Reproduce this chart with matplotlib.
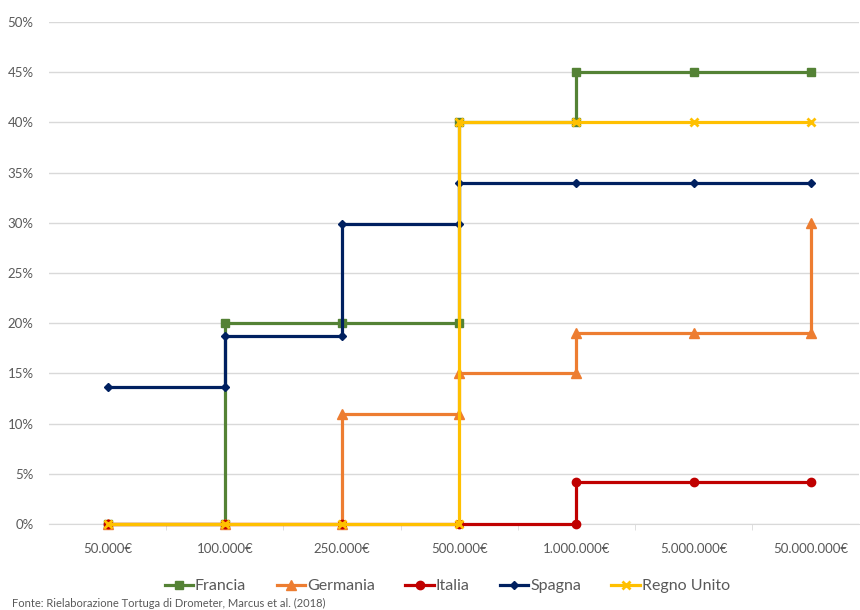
import matplotlib
matplotlib.use("Agg")
import numpy as np
from matplotlib import pyplot as plt
from matplotlib.ticker import FixedLocator

plt.rcParams['font.family'] = ['Lato', 'DejaVu Sans']

categories = ["50.000€", "100.000€", "250.000€", "500.000€", "1.000.000€",
              "5.000.000€", "50.000.000€"]

# step points: category index and percentage
francia_x = [0, 1, 1, 2, 3, 3, 4, 4, 5, 6]
francia_y = [0, 0, 20, 20, 20, 40, 40, 45, 45, 45]

germania_x = [0, 1, 2, 2, 3, 3, 4, 4, 5, 6, 6]
germania_y = [0, 0, 0, 11, 11, 15, 15, 19, 19, 19, 30]

italia_x = [0, 1, 2, 3, 4, 4, 5, 6]
italia_y = [0, 0, 0, 0, 0, 4.2, 4.2, 4.2]

spagna_x = [0, 1, 1, 2, 2, 3, 3, 4, 5, 6]
spagna_y = [13.6, 13.6, 18.7, 18.7, 29.9, 29.9, 34, 34, 34, 34]

regno_x = [0, 1, 2, 3, 3, 4, 5, 6]
regno_y = [0, 0, 0, 0, 40, 40, 40, 40]

series = [
    ("Francia", francia_x, francia_y, "#548235", "s", 5.5),
    ("Germania", germania_x, germania_y, "#ED7D31", "^", 6.5),
    ("Italia", italia_x, italia_y, "#C00000", "o", 6),
    ("Spagna", spagna_x, spagna_y, "#002060", "D", 4.5),
    ("Regno Unito", regno_x, regno_y, "#FFC000", "x", 6),
]

fig = plt.figure(figsize=(8.6, 6.1), dpi=100)
ax = fig.add_axes([49 / 860, 86 / 610, 810 / 860, 502 / 610])

for name, xs, ys, col, mk, ms in series:
    ax.plot(xs, ys, color=col, lw=2.3, marker=mk, markersize=ms,
            markeredgewidth=2 if mk == "x" else 1, markeredgecolor=col,
            label=name, zorder=3, clip_on=False)

ax.set_xlim(-0.5, 6.41)
ax.set_ylim(0, 50)
ax.set_yticks(np.arange(0, 51, 5))
ax.set_yticklabels([f"{v}%" for v in range(0, 51, 5)])
ax.set_xticks(range(len(categories)))
ax.set_xticklabels(categories)
ax.xaxis.set_minor_locator(FixedLocator(np.arange(0.5, 6.5, 1)))

ax.grid(axis="y", color="#d9d9d9", lw=1)
ax.set_axisbelow(True)
for side in ["top", "right", "left"]:
    ax.spines[side].set_visible(False)
ax.spines["bottom"].set_color("#d9d9d9")
ax.tick_params(axis="y", length=0, pad=11, labelsize=9.5, labelcolor="#595959")
ax.tick_params(axis="x", which="major", length=0, pad=14, labelsize=9.5,
               labelcolor="#595959")
ax.tick_params(axis="x", which="minor", length=4, color="#d9d9d9")

fig.legend(loc="center", bbox_to_anchor=(0.52, 24 / 610), ncol=5, frameon=False,
           fontsize=11.5, labelcolor="#595959", handlelength=1.8,
           handletextpad=0.1, columnspacing=1.9)

fig.text(12 / 860, 1 / 610, "Fonte: Rielaborazione Tortuga di Drometer, Marcus et al. (2018)",
         fontsize=8, color="#595959", va="bottom")

fig.savefig("out.png", dpi=100)
